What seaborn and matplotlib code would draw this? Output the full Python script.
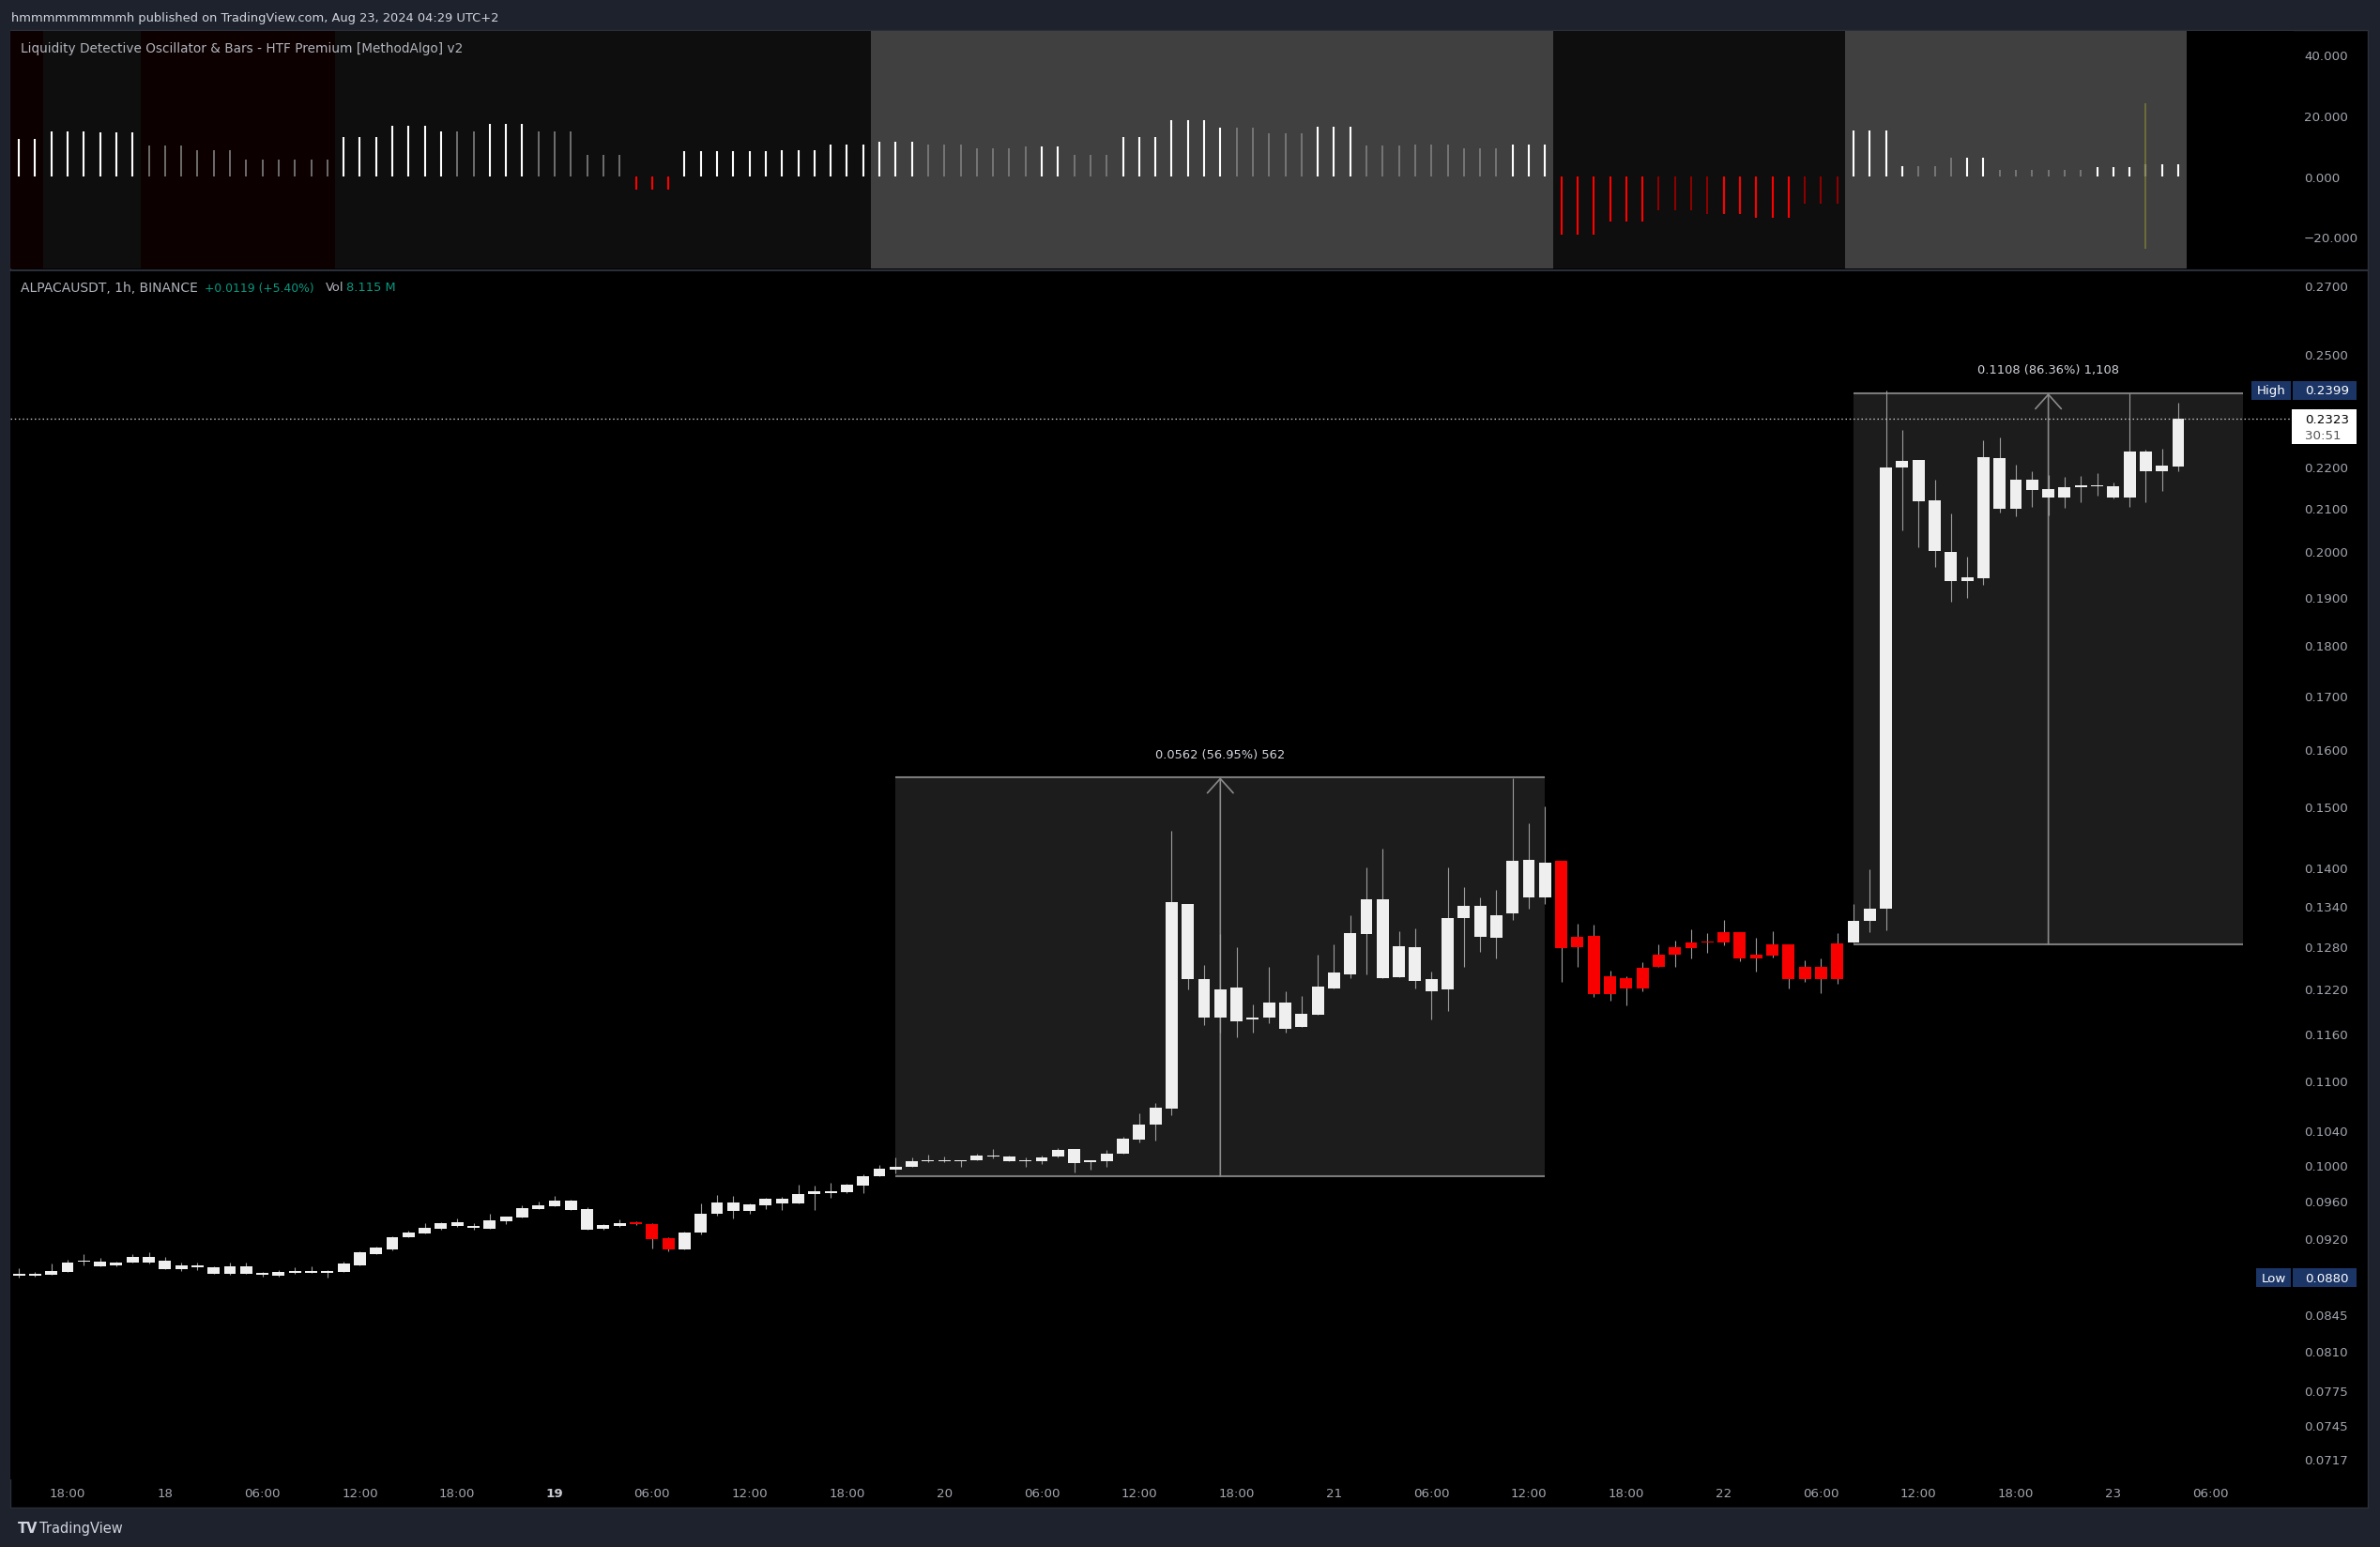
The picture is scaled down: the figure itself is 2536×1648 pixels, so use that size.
import numpy as np
import matplotlib
matplotlib.use("Agg")
import matplotlib.pyplot as plt
import seaborn as sns
from matplotlib.patches import Rectangle
from matplotlib.lines import Line2D
from matplotlib.transforms import IdentityTransform

# ---------------- DATA ----------------
# bar index: hours from Aug 17 18:00 (UTC+2)
hours = list(range(-3, 131))

opens = [0.08825, 0.0882, 0.0883, 0.0886, 0.0896, 0.0896, 0.0893, 0.0895, 0.0901, 0.0897,
         0.0889, 0.0893, 0.0891, 0.0884, 0.0892, 0.0883, 0.0882, 0.0885, 0.0887, 0.0885,
         0.0886, 0.0893, 0.0904, 0.0909, 0.0921, 0.0925, 0.0930, 0.0933, 0.0933, 0.0930,
         0.0938, 0.0942, 0.0951, 0.0954, 0.0960, 0.0951, 0.0930, 0.0933, 0.0937, 0.0935,
         0.0920, 0.0909, 0.0926, 0.0946, 0.0958, 0.0949, 0.0955, 0.0962, 0.0957, 0.0967,
         0.0971, 0.0969, 0.0977, 0.0987, 0.0995, 0.0998, 0.1004, 0.1004, 0.1004, 0.1005,
         0.1010, 0.1009, 0.1004, 0.1004, 0.1009, 0.1018, 0.1003, 0.1004, 0.1013, 0.1029,
         0.1046, 0.1066, 0.1342, 0.1234, 0.1181, 0.1222, 0.1178, 0.1181, 0.1201, 0.1168,
         0.1185, 0.1221, 0.1240, 0.1298, 0.1350, 0.1236, 0.1279, 0.1233, 0.1219, 0.1321,
         0.1340, 0.1293, 0.1329, 0.1411, 0.1353, 0.1410, 0.1279, 0.1295, 0.1213, 0.1235,
         0.1221, 0.1250, 0.1268, 0.1278, 0.1286, 0.1285, 0.1301, 0.1263, 0.1267, 0.1283,
         0.1234, 0.1250, 0.1234, 0.1285, 0.1317, 0.1335, 0.2199, 0.2217, 0.2119, 0.1999,
         0.1933, 0.1940, 0.2222, 0.2099, 0.2169, 0.2145, 0.2126, 0.2151, 0.2152, 0.2153,
         0.2126, 0.2239, 0.2189, 0.2201]
highs = [0.0890, 0.0886, 0.0894, 0.0898, 0.0904, 0.0900, 0.0896, 0.0904, 0.0906, 0.0901,
         0.0895, 0.0895, 0.0892, 0.0895, 0.0895, 0.0886, 0.0888, 0.0891, 0.0892, 0.0888,
         0.0896, 0.0907, 0.0912, 0.0922, 0.0928, 0.0936, 0.0937, 0.0941, 0.0936, 0.0946,
         0.0943, 0.0955, 0.0959, 0.0965, 0.0961, 0.0953, 0.0935, 0.0940, 0.0938, 0.0936,
         0.0921, 0.0927, 0.0957, 0.0966, 0.0965, 0.0957, 0.0963, 0.0964, 0.0978, 0.0977,
         0.0980, 0.0979, 0.0989, 0.1000, 0.1008, 0.1008, 0.1012, 0.1009, 0.1005, 0.1013,
         0.1018, 0.1010, 0.1008, 0.1010, 0.1019, 0.1018, 0.1004, 0.1017, 0.1032, 0.1060,
         0.1072, 0.1459, 0.1342, 0.1253, 0.1298, 0.1279, 0.1199, 0.1251, 0.1217, 0.1210,
         0.1268, 0.1283, 0.1326, 0.1399, 0.1429, 0.1302, 0.1306, 0.1244, 0.1399, 0.1369,
         0.1353, 0.1364, 0.1548, 0.1471, 0.1499, 0.1410, 0.1313, 0.1312, 0.1245, 0.1237,
         0.1257, 0.1283, 0.1288, 0.1305, 0.1299, 0.1319, 0.1301, 0.1292, 0.1302, 0.1283,
         0.1260, 0.1262, 0.1299, 0.1342, 0.1396, 0.2398, 0.2293, 0.2218, 0.2169, 0.2087,
         0.1988, 0.2267, 0.2275, 0.2206, 0.2190, 0.2179, 0.2176, 0.2178, 0.2184, 0.2162,
         0.2392, 0.2244, 0.2246, 0.2365]
lows = [0.0880, 0.08815, 0.0883, 0.0886, 0.0893, 0.0892, 0.0892, 0.0895, 0.0894, 0.0889,
        0.0887, 0.0888, 0.0884, 0.0883, 0.0884, 0.0881, 0.0881, 0.0884, 0.0885, 0.0880,
        0.0886, 0.0893, 0.0904, 0.0908, 0.0921, 0.0925, 0.0929, 0.0932, 0.0929, 0.0930,
        0.0935, 0.0942, 0.0951, 0.0954, 0.0950, 0.0929, 0.0929, 0.0932, 0.0934, 0.0910,
        0.0907, 0.0909, 0.0924, 0.0944, 0.0941, 0.0946, 0.0951, 0.0950, 0.0957, 0.0950,
        0.0963, 0.0968, 0.0968, 0.0987, 0.0990, 0.0998, 0.1003, 0.1003, 0.0998, 0.1005,
        0.1007, 0.1004, 0.0998, 0.1001, 0.1008, 0.0991, 0.0995, 0.0998, 0.1013, 0.1026,
        0.1028, 0.1058, 0.1219, 0.1171, 0.1161, 0.1155, 0.1161, 0.1173, 0.1161, 0.1168,
        0.1185, 0.1221, 0.1235, 0.1240, 0.1235, 0.1236, 0.1220, 0.1178, 0.1190, 0.1250,
        0.1272, 0.1262, 0.1319, 0.1335, 0.1342, 0.1230, 0.1250, 0.1209, 0.1204, 0.1197,
        0.1217, 0.1250, 0.1250, 0.1262, 0.1270, 0.1282, 0.1259, 0.1244, 0.1264, 0.1221,
        0.1230, 0.1214, 0.1227, 0.1285, 0.1300, 0.1304, 0.2047, 0.2010, 0.1964, 0.1890,
        0.1898, 0.1925, 0.2089, 0.2081, 0.2104, 0.2082, 0.2101, 0.2115, 0.2129, 0.2124,
        0.2104, 0.2115, 0.2141, 0.2190]
closes = [0.0883, 0.0884, 0.0887, 0.0895, 0.08965, 0.0892, 0.0895, 0.0901, 0.0895, 0.0889,
          0.0893, 0.0891, 0.0884, 0.0892, 0.0884, 0.0885, 0.0886, 0.0887, 0.0885, 0.0887,
          0.0894, 0.0906, 0.0911, 0.0921, 0.0926, 0.0931, 0.0936, 0.0937, 0.0931, 0.0939,
          0.0943, 0.0952, 0.0955, 0.0960, 0.0950, 0.0929, 0.0934, 0.0936, 0.0935, 0.0919,
          0.0909, 0.0926, 0.0946, 0.0958, 0.0949, 0.0956, 0.0962, 0.0957, 0.0967, 0.0971,
          0.0968, 0.0978, 0.0987, 0.0996, 0.0998, 0.1004, 0.1005, 0.10045, 0.1005, 0.1010,
          0.1009, 0.1004, 0.1005, 0.1008, 0.1017, 0.1002, 0.1004, 0.1013, 0.1030, 0.1047,
          0.1067, 0.1345, 0.1234, 0.1181, 0.1219, 0.1176, 0.1181, 0.1201, 0.1166, 0.1186,
          0.1223, 0.1243, 0.1299, 0.1350, 0.1235, 0.1280, 0.1231, 0.1217, 0.1321, 0.1340,
          0.1294, 0.1326, 0.1410, 0.1352, 0.1407, 0.1278, 0.1294, 0.1213, 0.1237, 0.1220,
          0.1249, 0.1268, 0.1279, 0.1286, 0.1285, 0.1301, 0.1263, 0.1268, 0.1283, 0.1234,
          0.1250, 0.1234, 0.1284, 0.1317, 0.1336, 0.2199, 0.2215, 0.2117, 0.2001, 0.1933,
          0.1942, 0.2224, 0.2099, 0.2169, 0.2144, 0.2126, 0.2150, 0.2152, 0.2152, 0.2126,
          0.2239, 0.2190, 0.2204, 0.2323]

# oscillator histogram values (one per bar)
osc_values = [12.4, 12.4, 14.8, 14.8, 14.8, 14.5, 14.5, 14.5, 10.2, 10.2,
              10.2, 8.7, 8.7, 8.7, 5.6, 5.6, 5.6, 5.6, 5.6, 5.6,
              12.8, 12.8, 12.8, 16.7, 16.7, 16.7, 14.8, 14.8, 14.8, 17.3,
              17.3, 17.3, 14.8, 14.8, 14.8, 7.1, 7.1, 7.1, -4.5, -4.5,
              -4.5, 8.3, 8.3, 8.3, 8.3, 8.3, 8.3, 8.6, 8.6, 8.6,
              10.5, 10.5, 10.5, 11.4, 11.4, 11.4, 10.5, 10.5, 10.5, 9.3,
              9.3, 9.3, 9.9, 9.9, 9.9, 7.1, 7.1, 7.1, 13.0, 13.0,
              13.0, 18.5, 18.5, 18.5, 16.1, 16.1, 16.1, 14.2, 14.2, 14.2,
              16.4, 16.4, 16.4, 10.2, 10.2, 10.2, 10.5, 10.5, 10.5, 9.3,
              9.3, 9.3, 10.5, 10.5, 10.5, -19.2, -19.2, -19.2, -14.8, -14.8,
              -14.8, -11.1, -11.1, -11.1, -12.4, -12.4, -12.4, -13.6, -13.6, -13.6,
              -9.0, -9.0, -9.0, 15.1, 15.1, 15.1, 3.4, 3.4, 3.4, 6.2,
              6.2, 6.2, 2.2, 2.2, 2.2, 2.2, 2.2, 2.2, 3.1, 3.1,
              3.1, 4.0, 4.0, 4.0]
# W strong bull, G weak bull, R strong bear, D weak bear
osc_state = ("WWWWWWWW GGGGGGGGGGGG WWWWWWW GG WWW GGGGGG RRR WWWWWWWWWWWWWWW GGGGGGG WW GGG "
             "WWWWWWW GGGGG WWW GGGGGGGGG WWW RRRRRR DDDD RRRRR DDD WWWW GGG WW GGGGGG WWWWWW").replace(" ", "")

# background regimes of the oscillator pane (bar-index boundaries)
band_start = [-3.6, -1.5, 4.5, 16.5, 49.5, 91.5, 109.5]
band_end = [-1.5, 4.5, 16.5, 49.5, 91.5, 109.5, 130.5]
band_kind = ["bear", "neutral", "bear", "neutral", "bull", "neutral", "bull"]

# spike marker in oscillator
spike_bar = 128
spike_lo, spike_hi = -24.0, 24.1

# measurement boxes (price range tool)
box_from = [51, 110]
box_to = [91, 134]
box_low = [0.0987, 0.1283]
box_high = [0.1549, 0.2391]
box_text = ["0.0562 (56.95%) 562", "0.1108 (86.36%) 1,108"]

price_ticks = [0.2700, 0.2500, 0.2200, 0.2100, 0.2000, 0.1900, 0.1800, 0.1700, 0.1600,
               0.1500, 0.1400, 0.1340, 0.1280, 0.1220, 0.1160, 0.1100, 0.1040, 0.1000,
               0.0960, 0.0920, 0.0845, 0.0810, 0.0775, 0.0745, 0.0717]
osc_ticks = [40, 20, 0, -20]
osc_tick_labels = ["40.000", "20.000", "0.000", "\u221220.000"]

time_ticks = [0, 6, 12, 18, 24, 30, 36, 42, 48, 54, 60, 66, 72, 78, 84, 90, 96, 102,
              108, 114, 120, 126, 132]
time_labels = ["18:00", "18", "06:00", "12:00", "18:00", "19", "06:00", "12:00", "18:00",
               "20", "06:00", "12:00", "18:00", "21", "06:00", "12:00", "18:00", "22",
               "06:00", "12:00", "18:00", "23", "06:00"]

high_value = 0.2399
low_value = 0.0880
last_price = 0.2323
countdown = "30:51"

assert len(opens) == len(highs) == len(lows) == len(closes) == len(hours) == 134
assert len(osc_values) == 134 and len(osc_state) == 134

# ---------------- STYLE ----------------
sns.set_theme(style="dark", rc={"axes.facecolor": "black", "figure.facecolor": "#1e222d"})
plt.rcParams["font.family"] = ["DejaVu Sans"]

W, H = 2536, 1649
fig = plt.figure(figsize=(W / 100, H / 100), dpi=100, facecolor="#1e222d")


def frect(x0, y0, x1, y1):
    return [x0 / W, 1 - y1 / H, (x1 - x0) / W, (y1 - y0) / H]


ID = IdentityTransform()
fig.add_artist(Rectangle((11, H - 1607), 2523 - 11, 1607 - 33, transform=ID,
                         facecolor="black", edgecolor="#2a2e39", lw=1.0, zorder=0))
fig.add_artist(Line2D([11, 2523], [H - 288.5, H - 288.5], transform=ID,
                      color="#2a2e39", lw=1.5, zorder=5))

XL = ((11 - 72) / 17.3, (2444 - 72) / 17.3)
TXT = "#d1d4dc"
AX_TXT = "#a3a6af"
AX_FS = 9.6

# ---------------- OSCILLATOR PANE ----------------
axo = fig.add_axes(frect(11, 34, 2444, 287))
axo.set_facecolor("black")
band_col = {"bear": "#0c0000", "neutral": "#0e0e0e", "bull": "#404040"}
for s, e, k in zip(band_start, band_end, band_kind):
    axo.axvspan(s, e, color=band_col[k], lw=0, zorder=0)

col_map = {"W": "#ffffff", "G": "#7f7f7f", "R": "#ff0000", "D": "#8b0000"}
lw_map = {"W": 1.5, "G": 1.2, "R": 1.5, "D": 1.5}
t = np.array(hours)
ov = np.array(osc_values)
for k in "WGRD":
    m = np.array([s == k for s in osc_state])
    axo.vlines(t[m], 0, ov[m], colors=col_map[k], lw=lw_map[k], zorder=3)
axo.vlines([spike_bar], spike_lo, spike_hi, colors="#76763a", lw=1.2, zorder=4)

axo.set_xlim(*XL)
axo.set_ylim(-30.4, 47.8)
axo.yaxis.tick_right()
axo.set_yticks(osc_ticks)
axo.set_yticklabels(osc_tick_labels)
axo.tick_params(axis="y", length=0, pad=8, labelsize=AX_FS, labelcolor=AX_TXT)
axo.set_xticks([])
axo.grid(False)
for sp in axo.spines.values():
    sp.set_visible(False)

# ---------------- PRICE PANE ----------------
ax = fig.add_axes(frect(11, 290, 2444, 1577))
ax.set_facecolor("black")
ax.set_yscale("log")
ax.set_xlim(*XL)
ax.set_ylim(0.07008, 0.27444)

for x0, x1, lo, hi, lab in zip(box_from, box_to, box_low, box_high, box_text):
    ax.add_patch(Rectangle((x0, lo), x1 - x0, hi - lo, facecolor="#1c1c1c",
                           edgecolor="none", zorder=1))
    ax.hlines([lo, hi], x0, x1, colors="#7a7a7a", lw=1.5, zorder=1.5)
    mid = (x0 + x1) / 2
    ax.annotate("", xy=(mid, hi), xytext=(mid, lo),
                arrowprops=dict(arrowstyle="->,head_length=0.5,head_width=0.45",
                                color="#8a8a8a", lw=1.2, shrinkA=0, shrinkB=0,
                                mutation_scale=22), zorder=1.6)
    ax.annotate(lab, xy=(mid, hi), xytext=(0, 18), textcoords="offset points",
                ha="center", va="center", color=TXT, fontsize=9.4)

o = np.array(opens)
c = np.array(closes)
hi_ = np.array(highs)
lo_ = np.array(lows)
red = np.array([s in "RD" for s in osc_state])
b_lo = np.minimum(o, c)
b_h = np.maximum(np.abs(c - o), b_lo * 0.0016)
ax.vlines(t, lo_, hi_, colors="#9c9c9c", lw=0.8, zorder=2)
ax.bar(t, b_h, bottom=b_lo, width=0.74, color=np.where(red, "#f80000", "#efefef"),
       linewidth=0, zorder=3)

ax.axhline(last_price, color="#cfcfcf", lw=0.9, ls=(0, (1.2, 2.2)), zorder=4)

ax.yaxis.tick_right()
ax.yaxis.set_minor_locator(matplotlib.ticker.NullLocator())
ax.set_yticks(price_ticks)
ax.set_yticklabels([f"{v:.4f}" for v in price_ticks])
ax.yaxis.set_minor_formatter(matplotlib.ticker.NullFormatter())
ax.tick_params(axis="y", which="both", length=0, pad=8, labelsize=AX_FS, labelcolor=AX_TXT)
ax.set_xticks(time_ticks)
ax.set_xticklabels(time_labels)
ax.tick_params(axis="x", length=0, pad=5.5, labelsize=AX_FS, labelcolor=AX_TXT)
for lab in ax.get_xticklabels():
    if lab.get_text() == "19":
        lab.set_fontweight("bold")
        lab.set_color("#c8cbd3")
ax.grid(False)
for sp in ax.spines.values():
    sp.set_visible(False)


# ---------------- PRICE-AXIS LABELS ----------------
def ypix(v):
    return ax.transData.transform((0, v))[1]


def tag(v, left_txt, x0):
    yc = ypix(v)
    fig.add_artist(Rectangle((x0, yc - 10), 2441 - x0, 20, transform=ID,
                             facecolor="#1b3566", edgecolor="none", zorder=6))
    fig.add_artist(Rectangle((2443, yc - 10), 2511 - 2443, 20, transform=ID,
                             facecolor="#1b3566", edgecolor="none", zorder=6))
    fig.text((x0 + 2441) / 2, yc, left_txt, transform=ID, ha="center", va="center",
             color="white", fontsize=AX_FS, zorder=7)
    fig.text(2456, yc, f"{v:.4f}", transform=ID, ha="left", va="center",
             color="white", fontsize=AX_FS, zorder=7)


tag(high_value, "High", 2399)
tag(low_value, "Low", 2404)

yc = ypix(last_price)
fig.add_artist(Rectangle((2442, yc - 27), 2511 - 2442, 37, transform=ID,
                         facecolor="white", edgecolor="none", zorder=6))
fig.text(2456, yc, f"{last_price:.4f}", transform=ID, ha="left", va="center",
         color="black", fontsize=AX_FS, zorder=7)
fig.text(2456, yc - 17, countdown, transform=ID, ha="left", va="center",
         color="#555555", fontsize=AX_FS, zorder=7)

# ---------------- TEXTS ----------------
fig.text(12 / W, 1 - 19 / H, "hmmmmmmmmmh published on TradingView.com, Aug 23, 2024 04:29 UTC+2",
         color=TXT, fontsize=9.4, va="center", ha="left")
fig.text(22 / W, 1 - 52 / H,
         "Liquidity Detective Oscillator & Bars - HTF Premium [MethodAlgo] v2",
         color="#b2b5be", fontsize=9.8, va="center", ha="left")
fig.text(22 / W, 1 - 307 / H, "ALPACAUSDT, 1h, BINANCE", color="#b2b5be", fontsize=10,
         va="center", ha="left")
fig.text(218 / W, 1 - 307 / H, "+0.0119 (+5.40%)", color="#089981", fontsize=8.9,
         va="center", ha="left")
fig.text(347 / W, 1 - 307 / H, "Vol", color="#b2b5be", fontsize=9.4, va="center", ha="left")
fig.text(369 / W, 1 - 307 / H, "8.115 M", color="#089981",
         fontsize=9.4, va="center", ha="left")
fig.text(19 / W, 1 - 1629 / H, "TV", color=TXT, fontsize=10.5, fontweight="bold",
         va="center", ha="left")
fig.text(42 / W, 1 - 1629 / H, "TradingView", color=TXT, fontsize=10.5, va="center", ha="left")

fig.savefig("out.png", dpi=100, facecolor=fig.get_facecolor())
